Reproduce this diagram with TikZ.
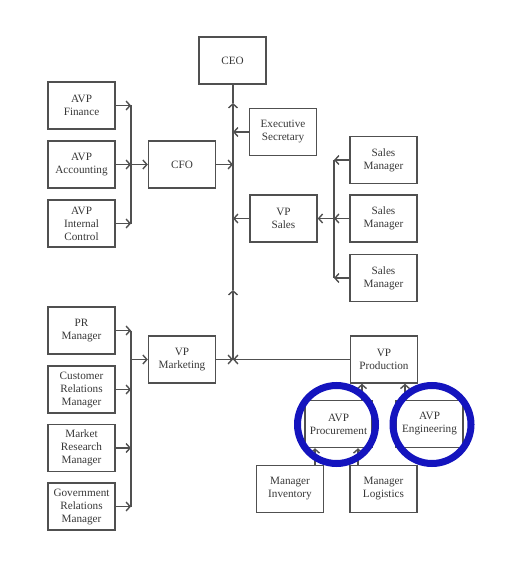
\documentclass[tikz,border=0pt]{standalone}
\usepackage{fontspec}
\setmainfont{Liberation Serif}
\usetikzlibrary{arrows.meta}
\definecolor{boxline}{RGB}{80,80,80}
\definecolor{txt}{RGB}{55,55,55}
\definecolor{hilite}{RGB}{20,20,190}
\tikzset{
  box/.style={draw=boxline, line width=1.4pt, minimum width=67pt, minimum height=47pt,
    inner sep=0pt, align=center, text=txt, font=\fontsize{11.2}{13}\selectfont},
  arr/.style={draw=boxline, line width=1.4pt, -{Straight Barb[length=4pt,width=9pt,line width=1.4pt]}},
  ln/.style={draw=boxline, line width=1.4pt},
  ring/.style={draw=hilite, line width=7pt}
}
\begin{document}
\begin{tikzpicture}[x=1pt,y=-1pt]
\useasboundingbox (0,0) rectangle (512,569);
% nodes
\node[box] (ceo) at (232.5,60.5) {CEO};
\node[box] (es) at (283,132) {Executive\\Secretary};
\node[box] (cfo) at (182,164.5) {CFO};
\node[box] (fin) at (81.5,105.5) {AVP\\Finance};
\node[box] (acc) at (81.5,164.5) {AVP\\Accounting};
\node[box] (ic) at (81.5,223.5) {AVP\\Internal\\Control};
\node[box] (vps) at (283.5,218.5) {VP\\Sales};
\node[box] (sm1) at (383.5,160) {Sales\\Manager};
\node[box] (sm2) at (383.5,218.5) {Sales\\Manager};
\node[box] (sm3) at (383.5,278) {Sales\\Manager};
\node[box] (pr) at (81.5,330.5) {PR\\Manager};
\node[box] (crm) at (81.5,389.5) {Customer\\Relations\\Manager};
\node[box] (mrm) at (81.5,448) {Market\\Research\\Manager};
\node[box] (grm) at (81.5,506.5) {Government\\Relations\\Manager};
\node[box] (vpm) at (182,359.5) {VP\\Marketing};
\node[box] (vpp) at (384,359.5) {VP\\Production};
\node[box] (proc) at (338.5,424) {AVP\\Procurement};
\node[box] (eng) at (429.5,424) {AVP\\Engineering};
\node[box] (inv) at (290,489) {Manager\\Inventory};
\node[box] (log) at (383.5,489) {Manager\\Logistics};
% trunk coordinates
\coordinate (tj) at (233,359.5);
\coordinate (t290) at (233,290);
\coordinate (t103) at (233,103);
\coordinate (tes) at (233,132);
\coordinate (tcfo) at (233,164.5);
\coordinate (tvps) at (233,218.5);
% trunk
\draw[arr] (tj) -- (t290);
\draw[arr] (t290) -- (t103);
\draw[ln] (t103) -- (ceo.south -| t103);
\draw[arr] (es.west) -- (tes);
\draw[arr] (cfo.east) -- (tcfo);
\draw[arr] (vps.west) -- (tvps);
\draw[arr] (vpm.east) -- (tj);
\draw[arr] (vpp.west) -- (tj);
% finance bus
\coordinate (fb1) at (131,105.5);
\coordinate (fb2) at (131,164.5);
\coordinate (fb3) at (131,223.5);
\draw[ln] (fb1) -- (fb3);
\draw[arr] (fin.east) -- (fb1);
\draw[arr] (acc.east) -- (fb2);
\draw[arr] (ic.east) -- (fb3);
\draw[arr] (fb2) -- (cfo.west);
% sales bus
\coordinate (sb1) at (334,160);
\coordinate (sb2) at (334,218.5);
\coordinate (sb3) at (334,278);
\draw[ln] (sb1) -- (sb3);
\draw[arr] (sm1.west) -- (sb1);
\draw[arr] (sm2.west) -- (sb2);
\draw[arr] (sm3.west) -- (sb3);
\draw[arr] (sb2) -- (vps.east);
% marketing bus
\coordinate (mb1) at (131,330.5);
\coordinate (mb2) at (131,389.5);
\coordinate (mb3) at (131,448);
\coordinate (mb4) at (131,506.5);
\coordinate (mbv) at (131,359.5);
\draw[ln] (mb1) -- (mb4);
\draw[arr] (pr.east) -- (mb1);
\draw[arr] (crm.east) -- (mb2);
\draw[arr] (mrm.east) -- (mb3);
\draw[arr] (grm.east) -- (mb4);
\draw[arr] (mbv) -- (vpm.west);
% production
\draw[arr] (proc.north -| 362,0) -- (vpp.south -| 362,0);
\draw[arr] (eng.north -| 405,0) -- (vpp.south -| 405,0);
\draw[arr] (inv.north -| 315,0) -- (proc.south -| 315,0);
\draw[arr] (log.north -| 358,0) -- (proc.south -| 358,0);
% highlight rings
\draw[ring] (336.5,424.5) circle (39);
\draw[ring] (432,424.5) circle (39);
\end{tikzpicture}
\end{document}
